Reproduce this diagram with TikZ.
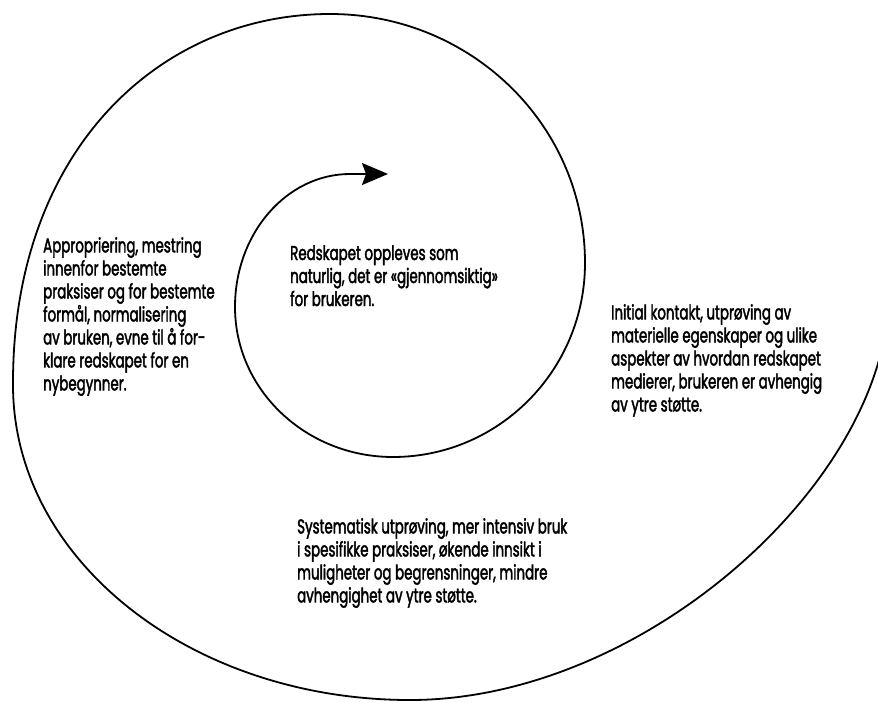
\documentclass[tikz,border=0pt]{standalone}
\usepackage{fontspec}
\newfontfamily\figfont{Poppins}[FakeStretch=0.67,FakeBold=2]
\usetikzlibrary{arrows.meta}
\begin{document}
\begin{tikzpicture}[x=1pt,y=-1pt,
  spiral/.style={line width=1.8pt, line cap=round},
  lbl/.style={font=\figfont\fontsize{20}{23}\selectfont, anchor=north west, inner sep=0pt, align=left}]
\useasboundingbox (0,0) rectangle (878,702);
\clip (0,0) rectangle (878,702);
\coordinate (s) at (888,310);
\coordinate (ob) at (410,700);
\coordinate (ol) at (13,385);
\coordinate (ot) at (330,14);
\coordinate (ir) at (585,263);
\coordinate (ib) at (393,457);
\coordinate (il) at (235,307);
\coordinate (it) at (350,174);
\coordinate (tip) at (388,174);
\draw[spiral, -{Stealth[length=26pt,width=22pt,inset=4pt]}]
  (s) .. controls (875,490) and (640,700) .. (ob)
      .. controls (191,700) and (13,560) .. (ol)
      .. controls (12,150) and (160,14) .. (ot)
      .. controls (471,14) and (585,125) .. (ir)
      .. controls (585,370) and (499,457) .. (ib)
      .. controls (306,457) and (235,390) .. (il)
      .. controls (235,233) and (287,174) .. (it)
      -- (tip);
\node[lbl] (appr) at (43,237) {Appropriering, mestring\\innenfor bestemte\\praksiser og for bestemte\\formål, normalisering\\av bruken, evne til å for-\\klare redskapet for en\\nybegynner.};
\node[lbl] (redsk) at (290,245) {Redskapet oppleves som\\naturlig, det er «gjennomsiktig»\\for brukeren.};
\node[lbl] (init) at (611,304) {Initial kontakt, utprøving av\\materielle egenskaper og ulike\\aspekter av hvordan redskapet\\medierer, brukeren er avhengig\\av ytre støtte.};
\node[lbl] (syst) at (297,518) {Systematisk utprøving, mer intensiv bruk\\i spesifikke praksiser, økende innsikt i\\muligheter og begrensninger, mindre\\avhengighet av ytre støtte.};
\end{tikzpicture}
\end{document}
